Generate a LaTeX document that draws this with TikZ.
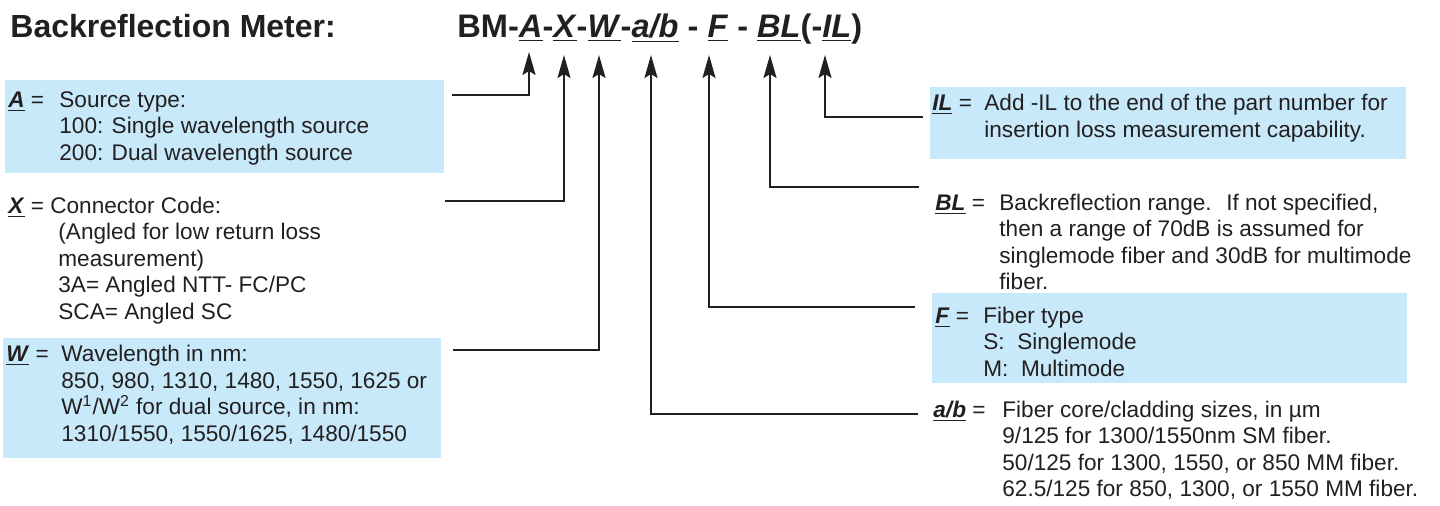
\documentclass[tikz,border=0pt]{standalone}
\usepackage{fontspec}
\setmainfont{Liberation Sans}
\usetikzlibrary{arrows.meta,backgrounds}
\definecolor{ink}{RGB}{35,31,32}
\definecolor{boxblue}{RGB}{199,233,249}
\tikzset{%
      descr/.style={anchor=north west, inner sep=0pt, align=left, text=ink, font=\fontsize{11.3}{13.25}\selectfont},
      heading/.style={anchor=base west, inner sep=0pt, text=ink, font=\fontsize{16}{19}\selectfont\bfseries},
      line/.style={draw, line width=1pt, color=ink, -{Stealth[length=11.5pt,width=6.5pt,inset=2pt]}},
      back box/.style={fill=boxblue},
    }
\newcommand{\code}[1]{\underline{\textbf{\textit{#1}}}}
\newcommand{\keyname}[2]{node (k#1) [descr] {\strut\code{#2} =}}
\newcommand{\keytext}[2]{node (d#1) [descr] {\strut#2}}

\begin{document}
\begin{tikzpicture}[x=0.5pt, y=-0.5pt]
      \useasboundingbox (0,0) rectangle (1440,506);

      % Draw headings
      \path (10,38) node (title) [heading] {Backreflection Meter:};
      \path (457,38) node (part) [heading, font=\fontsize{16.3}{19}\selectfont\bfseries]
        {BM-\code{A}-\code{X}-\code{W}-\code{a/b} - \code{F} - \code{BL}(-\code{IL})};

      % Draw left entries
      \path (8,88.5) \keyname{A}{A};
      \path (59,88.5) \keytext{A}{Source type:\\100: Single wavelength source\\200: Dual wavelength source};

      \path (8,194.5) node (kX) [descr] {\strut\code{X} = Connector Code:};
      \path (58,221) \keytext{X}{(Angled for low return loss\\measurement)\\3A= Angled NTT- FC/PC\\SCA= Angled SC};

      \path (6,343) \keyname{W}{W};
      \path (61,343) \keytext{W}{Wavelength in nm:\\850, 980, 1310, 1480, 1550, 1625 or\\W\textsuperscript{1}/W\textsuperscript{2} for dual source, in nm:\\1310/1550, 1550/1625, 1480/1550};

      % Draw right entries
      \path (932,92) \keyname{IL}{IL};
      \path (984,92) \keytext{IL}{Add -IL to the end of the part number for\\insertion loss measurement capability.};

      \path (935,191.5) \keyname{BL}{BL};
      \path (999,191.5) \keytext{BL}{Backreflection range.~ If not specified,\\then a range of 70dB is assumed for\\singlemode fiber and 30dB for multimode\\fiber.};

      \path (935,304.5) \keyname{F}{F};
      \path (983,304.5) \keytext{F}{Fiber type\\S:~ Singlemode\\M:~ Multimode};

      \path (933,398.5) \keyname{ab}{a/b};
      \path (1002,398.5) \keytext{ab}{Fiber core/cladding sizes, in µm\\9/125 for 1300/1550nm SM fiber.\\50/125 for 1300, 1550, or 850 MM fiber.\\62.5/125 for 850, 1300, or 1550 MM fiber.};

      % Ends of the connectors
      \coordinate (sA) at (452,95);   \coordinate (tA) at (529,52);
      \coordinate (sX) at (445,201);  \coordinate (tX) at (564,55);
      \coordinate (sW) at (453,350);  \coordinate (tW) at (599,55);
      \coordinate (sab) at (918,414); \coordinate (tab) at (651,55);
      \coordinate (sF) at (915,307);  \coordinate (tF) at (709,55);
      \coordinate (sBL) at (919,187); \coordinate (tBL) at (770,55);
      \coordinate (sIL) at (923,117); \coordinate (tIL) at (825,55);

      % Draw arrows up to the part number
      \path [line] (sA) -| (tA);
      \path [line] (sX) -| (tX);
      \path [line] (sW) -| (tW);
      \path [line] (sab) -| (tab);
      \path [line] (sF) -| (tF);
      \path [line] (sBL) -| (tBL);
      \path [line] (sIL) -| (tIL);

      \begin{scope}[on background layer]
        \fill [back box] (5,80) rectangle (444,173);
        \fill [back box] (3,338) rectangle (441,458);
        \fill [back box] (930,87) rectangle (1406,159);
        \fill [back box] (932,293) rectangle (1407,383);
      \end{scope}

    \end{tikzpicture}
\end{document}
